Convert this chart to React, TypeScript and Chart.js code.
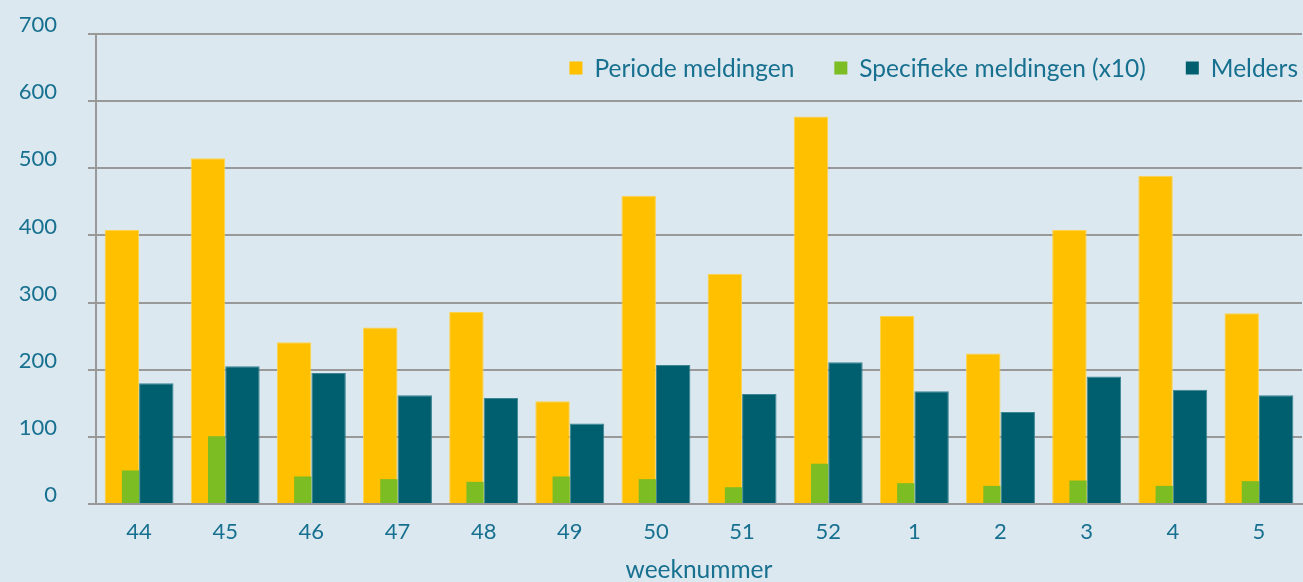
import React, { useEffect, useRef } from "react";
import { Chart, registerables } from "chart.js";

Chart.register(...registerables);

const weeks = ["44", "45", "46", "47", "48", "49", "50", "51", "52", "1", "2", "3", "4", "5"];
const periodeMeldingen = [408, 515, 241, 263, 286, 153, 459, 343, 577, 280, 224, 408, 489, 284];
const specifiekeMeldingen = [50, 101, 41, 37, 33, 41, 37, 25, 60, 31, 27, 35, 27, 34];
const melders = [180, 205, 195, 162, 158, 120, 207, 164, 211, 168, 137, 190, 170, 162];
const yTicks = [0, 100, 200, 300, 400, 500, 600, 700];
const seriesNames = ["Periode meldingen", "Specifieke meldingen (x10)", "Melders"];

const YELLOW = "#FFC000";
const GREEN = "#7BBD22";
const TEAL = "#005F6E";
const TEXT = "#17708F";
const GRID = "#999999";
const BG = "#DBE8F0";
const FONT = "Lato, 'Open Sans', sans-serif";

const legendPlugin = {
  id: "overlayLegend",
  afterDraw(chart: any) {
    const ctx = chart.ctx;
    const items = [
      { text: seriesNames[0], color: YELLOW },
      { text: seriesNames[1], color: GREEN },
      { text: seriesNames[2], color: TEAL },
    ];
    ctx.save();
    ctx.font = `24.5px ${FONT}`;
    ctx.textBaseline = "middle";
    ctx.textAlign = "left";
    const box = 13;
    const gapText = 12;
    const gapItem = 40;
    let total = 0;
    const widths = items.map((it) => ctx.measureText(it.text).width);
    widths.forEach((w, i) => {
      total += box + gapText + w + (i < items.length - 1 ? gapItem : 0);
    });
    let x = 1298 - total;
    const cy = 68;
    items.forEach((it, i) => {
      ctx.fillStyle = it.color;
      ctx.fillRect(x, cy - box / 2, box, box);
      x += box + gapText;
      ctx.fillStyle = TEXT;
      ctx.fillText(it.text, x, cy + 1);
      x += widths[i] + gapItem;
    });
    ctx.restore();
  },
};

export default function App() {
  const canvasRef = useRef<HTMLCanvasElement | null>(null);

  useEffect(() => {
    document.body.style.margin = "0";
    document.body.style.background = BG;
    const canvas = canvasRef.current;
    if (!canvas) return;
    const chart = new Chart(canvas, {
      type: "bar",
      data: {
        labels: weeks,
        datasets: [
          {
            label: seriesNames[0],
            data: periodeMeldingen,
            backgroundColor: YELLOW,
            borderColor: "#FFD24A",
            borderWidth: 1,
            stack: "a",
            categoryPercentage: 0.8,
            barPercentage: 1,
            order: 1,
          },
          {
            label: seriesNames[1],
            data: specifiekeMeldingen,
            backgroundColor: GREEN,
            borderWidth: 0,
            stack: "a",
            categoryPercentage: 0.4,
            barPercentage: 1,
            order: 0,
          },
          {
            label: seriesNames[2],
            data: melders,
            backgroundColor: TEAL,
            borderColor: "#3C8592",
            borderWidth: 1,
            stack: "b",
            categoryPercentage: 0.8,
            barPercentage: 1,
            order: 1,
          },
        ] as any,
      },
      options: {
        animation: false,
        responsive: true,
        maintainAspectRatio: false,
        layout: { padding: { top: 34, right: 1, left: 0, bottom: 0 } },
        plugins: {
          legend: { display: false },
          tooltip: { enabled: false },
          title: { display: false },
        },
        scales: {
          x: {
            type: "category",
            offset: true,
            grid: { display: false, offset: true, drawTicks: false },
            border: { display: true, color: GRID, width: 2 },
            ticks: {
              color: TEXT,
              font: { family: FONT, size: 22 },
              padding: 15,
            },
            title: {
              display: true,
              text: "weeknummer",
              color: TEXT,
              font: { family: FONT, size: 24.5, lineHeight: 1 },
              padding: { top: 0, bottom: 0 },
            },
            afterFit: (s: any) => {
              s.height = 78;
              s.paddingLeft = 0;
              s.paddingRight = 0;
            },
          },
          y: {
            min: 0,
            max: 700,
            stacked: false,
            afterBuildTicks: (s: any) => {
              s.ticks = yTicks.map((v) => ({ value: v }));
            },
            grid: { color: GRID, lineWidth: 2, tickLength: 8, drawTicks: true },
            border: { display: true, color: GRID, width: 2 },
            ticks: {
              color: TEXT,
              font: { family: FONT, size: 22 },
              padding: 31,
              labelOffset: -9,
            },
            afterFit: (s: any) => {
              s.width = 96;
              s.paddingTop = 0;
              s.paddingBottom = 0;
            },
          },
        },
      } as any,
      plugins: [legendPlugin],
    });
    return () => chart.destroy();
  }, []);

  return (
    <div
      style={{
        position: "absolute",
        left: 0,
        top: 0,
        width: 1303,
        height: 582,
        background: BG,
      }}
    >
      <canvas ref={canvasRef} />
    </div>
  );
}
